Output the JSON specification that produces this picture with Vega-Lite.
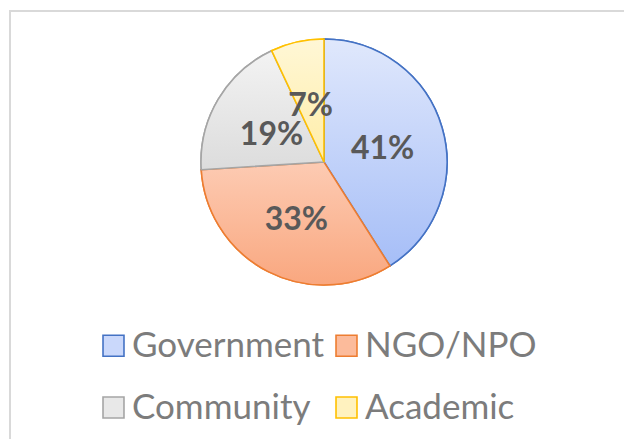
{
  "$schema": "https://vega.github.io/schema/vega-lite/v6.json",
  "autosize": "none",
  "padding": {"left": 10, "top": 11, "right": 0, "bottom": 0},
  "width": 628,
  "height": 440,
  "background": "white",
  "view": {"stroke": "#d9d9d9", "strokeWidth": 2, "fill": "white"},
  "data": {
    "values": [
      {"sector": "Government", "share": 0.41, "rank": 1},
      {"sector": "NGO/NPO", "share": 0.33, "rank": 2},
      {"sector": "Community", "share": 0.19, "rank": 3},
      {"sector": "Academic", "share": 0.07, "rank": 4}
    ]
  },
  "transform": [
    {"stack": "share", "groupby": [], "sort": [{"field": "rank", "order": "ascending"}], "as": ["t0", "t1"]}
  ],
  "layer": [
    {
      "mark": {"type": "arc", "radius": 123, "y": 151, "strokeWidth": 1.6},
      "encoding": {
        "theta": {"field": "t0", "type": "quantitative", "scale": {"domain": [0, 1]}},
        "theta2": {"field": "t1"},
        "fill": {
          "field": "sector",
          "type": "nominal",
          "sort": ["Government", "NGO/NPO", "Community", "Academic"],
          "scale": {
            "domain": ["Government", "NGO/NPO", "Community", "Academic"],
            "range": ["#cad8fb", "#fcbb9b", "#e8e8e8", "#fff2bf"]
          },
          "legend": {
            "title": null,
            "orient": "none",
            "direction": "horizontal",
            "legendX": 86,
            "legendY": 317,
            "padding": 0,
            "columns": 2,
            "columnPadding": 4,
            "rowPadding": 26,
            "symbolType": "square",
            "symbolSize": 440,
            "symbolStrokeWidth": 1.6,
            "symbolOffset": 0,
            "labelFont": "Lato",
            "labelFontSize": 35,
            "labelColor": "#7c7c7c",
            "labelOffset": 1,
            "labelLimit": 400
          }
        },
        "stroke": {
          "field": "sector",
          "type": "nominal",
          "sort": ["Government", "NGO/NPO", "Community", "Academic"],
          "scale": {
            "domain": ["Government", "NGO/NPO", "Community", "Academic"],
            "range": ["#4472c4", "#ed7d31", "#a5a5a5", "#ffc000"]
          },
          "legend": {
            "title": null,
            "orient": "none",
            "direction": "horizontal",
            "legendX": 86,
            "legendY": 317,
            "padding": 0,
            "columns": 2,
            "columnPadding": 4,
            "rowPadding": 26,
            "symbolType": "square",
            "symbolSize": 440,
            "symbolStrokeWidth": 1.6,
            "symbolOffset": 0,
            "labelFont": "Lato",
            "labelFontSize": 35,
            "labelColor": "#7c7c7c",
            "labelOffset": 1,
            "labelLimit": 400
          }
        }
      }
    },
    {
      "transform": [{"filter": "datum.sector === 'Government'"}],
      "mark": {"type": "arc", "radius": 123, "y": 151, "strokeWidth": 1.6, "stroke": "#4472c4",
        "fill": {"gradient": "linear", "x1": 0, "y1": 0, "x2": 0, "y2": 1, "stops": [{"offset": 0, "color": "#e0e8fc"}, {"offset": 1, "color": "#a6bef7"}]}},
      "encoding": {
        "theta": {"field": "t0", "type": "quantitative"},
        "theta2": {"field": "t1"}
      }
    },
    {
      "transform": [{"filter": "datum.sector === 'NGO/NPO'"}],
      "mark": {"type": "arc", "radius": 123, "y": 151, "strokeWidth": 1.6, "stroke": "#ed7d31",
        "fill": {"gradient": "linear", "x1": 0, "y1": 0, "x2": 0, "y2": 1, "stops": [{"offset": 0, "color": "#fdcbb3"}, {"offset": 1, "color": "#f9a77f"}]}},
      "encoding": {
        "theta": {"field": "t0", "type": "quantitative"},
        "theta2": {"field": "t1"}
      }
    },
    {
      "transform": [{"filter": "datum.sector === 'Community'"}],
      "mark": {"type": "arc", "radius": 123, "y": 151, "strokeWidth": 1.6, "stroke": "#a5a5a5",
        "fill": {"gradient": "linear", "x1": 0, "y1": 0, "x2": 0, "y2": 1, "stops": [{"offset": 0, "color": "#f3f3f3"}, {"offset": 1, "color": "#dcdcdc"}]}},
      "encoding": {
        "theta": {"field": "t0", "type": "quantitative"},
        "theta2": {"field": "t1"}
      }
    },
    {
      "transform": [{"filter": "datum.sector === 'Academic'"}],
      "mark": {"type": "arc", "radius": 123, "y": 151, "strokeWidth": 1.6, "stroke": "#ffc000",
        "fill": {"gradient": "linear", "x1": 0, "y1": 0, "x2": 0, "y2": 1, "stops": [{"offset": 0, "color": "#fff7d6"}, {"offset": 1, "color": "#ffeda8"}]}},
      "encoding": {
        "theta": {"field": "t0", "type": "quantitative"},
        "theta2": {"field": "t1"}
      }
    },
    {
      "mark": {"type": "text", "radius": 61, "y": 151, "dy": 4, "font": "Lato", "fontWeight": "bold", "fontSize": 32, "fill": "#595959", "baseline": "middle", "align": "center"},
      "encoding": {
        "theta": {"field": "share", "type": "quantitative", "stack": true},
        "order": {"field": "rank", "type": "quantitative"},
        "text": {"field": "share", "type": "quantitative", "format": ".0%"},
        "detail": {"field": "sector", "type": "nominal"}
      }
    }
  ]
}
